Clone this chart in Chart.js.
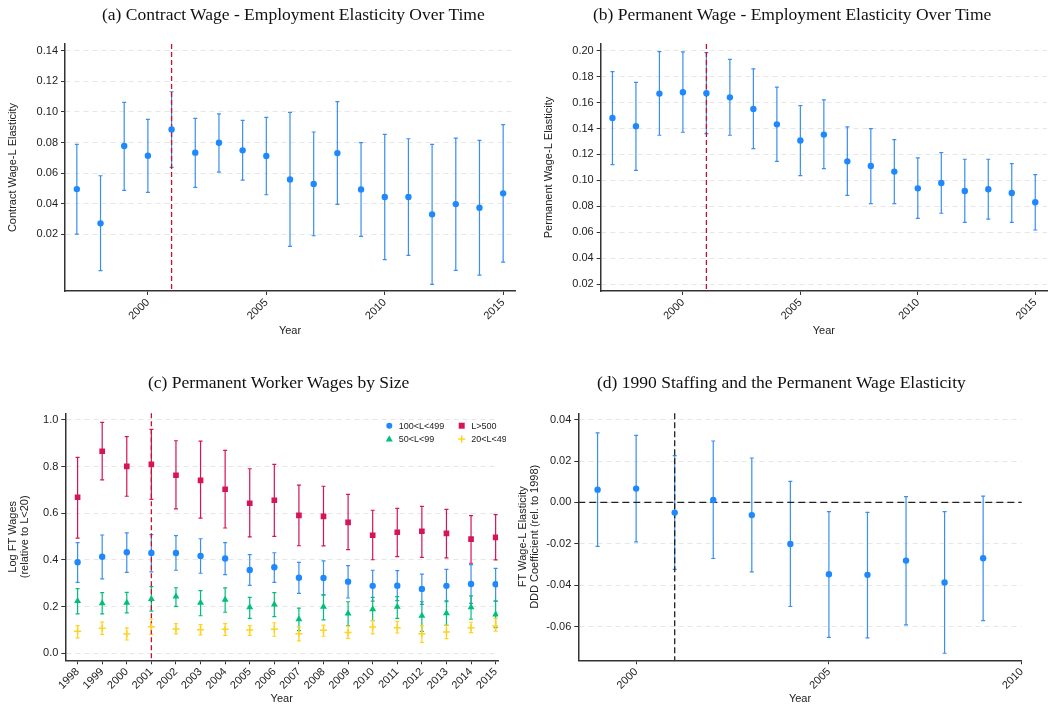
<!DOCTYPE html>
<html>
<head>
<meta charset="utf-8">
<script src="https://cdn.jsdelivr.net/npm/chart.js@4.4.1/dist/chart.umd.min.js"></script>
<style>
    body { margin: 0; background: #fff; width: 1051px; height: 709px; position: relative; overflow: hidden; }
    canvas { position: absolute; }
    .ttl { position: absolute; font-family: 'Liberation Serif', 'Times New Roman', serif; font-size: 17.5px; line-height: 20px; color: #111; white-space: nowrap; }
</style>
</head>
<body>
<canvas id="chartA" width="525" height="360" style="left:0;top:0"></canvas>
<canvas id="chartB" width="526" height="360" style="left:525px;top:0"></canvas>
<canvas id="chartC" width="506" height="349" style="left:0;top:360px"></canvas>
<canvas id="chartD" width="545" height="349" style="left:506px;top:360px"></canvas>
<div class="ttl" style="left:102px;top:4px">(a) Contract Wage - Employment Elasticity Over Time</div>
<div class="ttl" style="left:593px;top:4px">(b) Permanent Wage - Employment Elasticity Over Time</div>
<div class="ttl" style="left:148px;top:372px">(c) Permanent Worker Wages by Size</div>
<div class="ttl" style="left:597px;top:372px">(d) 1990 Staffing and the Permanent Wage Elasticity</div>
<script>
// ---- DATA ----
const contractYears = [1997, 1998, 1999, 2000, 2001, 2002, 2003, 2004, 2005, 2006, 2007, 2008, 2009, 2010, 2011, 2012, 2013, 2014, 2015];
const contractCoef = [0.0496, 0.0272, 0.0777, 0.0714, 0.0886, 0.0734, 0.0799, 0.0749, 0.0712, 0.0559, 0.0529, 0.0731, 0.0494, 0.0444, 0.0444, 0.0331, 0.0398, 0.0374, 0.0468];
const contractLo = [0.0202, -0.0037, 0.0488, 0.0474, 0.0638, 0.0507, 0.0607, 0.0555, 0.0459, 0.0122, 0.0191, 0.0396, 0.0187, 0.0035, 0.0063, -0.0127, -0.0035, -0.0066, 0.0019];
const contractHi = [0.0788, 0.0583, 0.1062, 0.0951, 0.1132, 0.0958, 0.0988, 0.0945, 0.0964, 0.0997, 0.0869, 0.1067, 0.0799, 0.0853, 0.0825, 0.0788, 0.0829, 0.0814, 0.0917];

const permYears = [1997, 1998, 1999, 2000, 2001, 2002, 2003, 2004, 2005, 2006, 2007, 2008, 2009, 2010, 2011, 2012, 2013, 2014, 2015];
const permCoef = [0.1481, 0.1417, 0.1669, 0.1679, 0.1671, 0.1640, 0.1551, 0.1432, 0.1307, 0.1353, 0.1147, 0.1111, 0.1068, 0.0939, 0.0980, 0.0919, 0.0932, 0.0903, 0.0832];
const permLo = [0.1122, 0.1078, 0.1348, 0.1371, 0.1361, 0.1348, 0.1245, 0.1147, 0.1037, 0.1091, 0.0885, 0.0821, 0.0821, 0.0708, 0.0747, 0.0677, 0.0701, 0.0677, 0.0618];
const permHi = [0.1838, 0.1756, 0.1992, 0.1990, 0.1985, 0.1933, 0.1859, 0.1718, 0.1576, 0.1620, 0.1412, 0.1399, 0.1314, 0.1173, 0.1214, 0.1163, 0.1163, 0.1129, 0.1045];

const sizeYears = [1998, 1999, 2000, 2001, 2002, 2003, 2004, 2005, 2006, 2007, 2008, 2009, 2010, 2011, 2012, 2013, 2014, 2015];
const sizeLabels = ['100<L<499', 'L>500', '50<L<99', '20<L<49'];
const midCoef = [0.390, 0.414, 0.433, 0.430, 0.430, 0.417, 0.406, 0.357, 0.369, 0.324, 0.323, 0.307, 0.289, 0.290, 0.276, 0.289, 0.297, 0.296];
const midLo = [0.304, 0.319, 0.347, 0.349, 0.356, 0.343, 0.337, 0.291, 0.304, 0.257, 0.250, 0.237, 0.224, 0.226, 0.210, 0.221, 0.214, 0.224];
const midHi = [0.474, 0.507, 0.516, 0.509, 0.504, 0.491, 0.474, 0.423, 0.431, 0.390, 0.396, 0.376, 0.356, 0.354, 0.339, 0.360, 0.380, 0.364];
const bigCoef = [0.669, 0.866, 0.801, 0.810, 0.763, 0.741, 0.703, 0.643, 0.656, 0.591, 0.587, 0.561, 0.506, 0.519, 0.523, 0.514, 0.489, 0.497];
const bigLo = [0.494, 0.743, 0.673, 0.660, 0.619, 0.579, 0.537, 0.499, 0.501, 0.461, 0.460, 0.444, 0.401, 0.414, 0.411, 0.409, 0.386, 0.400];
const bigHi = [0.840, 0.990, 0.929, 0.960, 0.911, 0.909, 0.870, 0.791, 0.810, 0.721, 0.716, 0.681, 0.613, 0.621, 0.630, 0.617, 0.590, 0.594];
const smallCoef = [0.224, 0.214, 0.217, 0.233, 0.243, 0.217, 0.229, 0.197, 0.209, 0.146, 0.199, 0.171, 0.189, 0.199, 0.161, 0.172, 0.197, 0.166];
const smallLo = [0.169, 0.169, 0.173, 0.181, 0.201, 0.161, 0.176, 0.150, 0.157, 0.097, 0.143, 0.119, 0.140, 0.150, 0.094, 0.120, 0.146, 0.110];
const smallHi = [0.277, 0.260, 0.261, 0.286, 0.281, 0.269, 0.280, 0.240, 0.260, 0.194, 0.250, 0.221, 0.240, 0.243, 0.221, 0.225, 0.246, 0.224];
const tinyCoef = [0.094, 0.107, 0.083, 0.114, 0.104, 0.101, 0.103, 0.100, 0.103, 0.084, 0.099, 0.089, 0.113, 0.110, 0.084, 0.091, 0.110, 0.117];
const tinyLo = [0.066, 0.081, 0.057, 0.081, 0.083, 0.079, 0.077, 0.077, 0.073, 0.053, 0.073, 0.064, 0.083, 0.087, 0.047, 0.063, 0.089, 0.095];
const tinyHi = [0.119, 0.134, 0.109, 0.147, 0.127, 0.123, 0.127, 0.119, 0.131, 0.113, 0.121, 0.117, 0.141, 0.137, 0.119, 0.121, 0.133, 0.150];

const dddYears = [1999, 2000, 2001, 2002, 2003, 2004, 2005, 2006, 2007, 2008, 2009];
const dddCoef = [0.0062, 0.0067, -0.0049, 0.0012, -0.0061, -0.0201, -0.0347, -0.0350, -0.0281, -0.0387, -0.0270];
const dddLo = [-0.0212, -0.0191, -0.0323, -0.0271, -0.0336, -0.0503, -0.0652, -0.0655, -0.0592, -0.0729, -0.0571];
const dddHi = [0.0336, 0.0324, 0.0226, 0.0297, 0.0215, 0.0102, -0.0044, -0.0048, 0.0028, -0.0044, 0.0031];

// tick labels
const ticksAy = [0.02, 0.04, 0.06, 0.08, 0.10, 0.12, 0.14];
const ticksBy = [0.02, 0.04, 0.06, 0.08, 0.10, 0.12, 0.14, 0.16, 0.18, 0.20];
const ticksCy = [0.0, 0.2, 0.4, 0.6, 0.8, 1.0];
const ticksDy = [-0.06, -0.04, -0.02, 0.00, 0.02, 0.04];
const ticksABx = [2000, 2005, 2010, 2015];
const ticksDx = [2000, 2005, 2010];
const policyYear = 2001;

// ---- STYLE ----
const AXIS = '#333';
const GRID = '#e6e6e6';
const BLUE = '#1e88ff';
const BLUE_BAR = '#3a8ff0';
const RED = '#d5145a';
const GREEN = '#00bf7a';
const YELLOW = '#ffd21f';

Chart.defaults.font.family = "'Liberation Sans', Arial, sans-serif";
Chart.defaults.font.size = 11;
Chart.defaults.color = '#222';

// error bars + reference lines, drawn under the markers
const errBars = {
    id: 'errBars',
    beforeDatasetsDraw(chart, args, opts) {
        const { ctx, chartArea: a, scales: { x, y } } = chart;
        const cap = opts.cap || 2;
        ctx.save();
        chart.data.datasets.forEach(d => {
            if (!d.lo) return;
            ctx.strokeStyle = d.barColor;
            ctx.lineWidth = 1.2;
            ctx.setLineDash([]);
            d.data.forEach((p, i) => {
                const px = x.getPixelForValue(p.x);
                const top = y.getPixelForValue(d.hi[i]);
                const bot = y.getPixelForValue(d.lo[i]);
                ctx.beginPath();
                ctx.moveTo(px, top); ctx.lineTo(px, bot);
                ctx.moveTo(px - cap, top); ctx.lineTo(px + cap, top);
                ctx.moveTo(px - cap, bot); ctx.lineTo(px + cap, bot);
                ctx.stroke();
            });
        });
        (opts.vLines || []).forEach(l => {
            const px = x.getPixelForValue(l.value);
            ctx.beginPath();
            ctx.strokeStyle = l.color; ctx.lineWidth = 1.3; ctx.setLineDash(l.dash);
            ctx.moveTo(px, a.top); ctx.lineTo(px, a.bottom); ctx.stroke();
        });
        (opts.hLines || []).forEach(l => {
            const py = y.getPixelForValue(l.value);
            ctx.beginPath();
            ctx.strokeStyle = l.color; ctx.lineWidth = 1.3; ctx.setLineDash(l.dash);
            ctx.moveTo(a.left, py); ctx.lineTo(a.right, py); ctx.stroke();
        });
        ctx.restore();
    }
};
Chart.register(errBars);

// two-column key in the top right of panel (c)
const cornerKey = {
    id: 'cornerKey',
    afterDraw(chart, args, opts) {
        const { ctx, chartArea: a } = chart;
        ctx.save();
        ctx.font = "9px 'Liberation Sans', Arial, sans-serif";
        ctx.textBaseline = 'middle';
        chart.data.datasets.forEach((d, i) => {
            const mx = a.left + opts.cols[i % 2];
            const my = a.top + opts.rows[Math.floor(i / 2)];
            drawMarker(ctx, d.pointStyle, d.backgroundColor, mx, my);
            ctx.fillStyle = '#222';
            ctx.fillText(d.label, mx + 9.5, my + 0.5);
        });
        ctx.restore();
    }
};

function drawMarker(ctx, style, color, x, y) {
    ctx.fillStyle = color;
    ctx.strokeStyle = color;
    ctx.beginPath();
    if (style === 'circle') ctx.arc(x, y, 3, 0, Math.PI * 2);
    else if (style === 'rect') ctx.rect(x - 3, y - 3, 6, 6);
    else if (style === 'triangle') { ctx.moveTo(x, y - 3.8); ctx.lineTo(x + 3.5, y + 2.6); ctx.lineTo(x - 3.5, y + 2.6); ctx.closePath(); }
    else { ctx.lineWidth = 1.5; ctx.moveTo(x - 3.5, y); ctx.lineTo(x + 3.5, y); ctx.moveTo(x, y - 3.5); ctx.lineTo(x, y + 3.5); ctx.stroke(); return; }
    ctx.fill();
}

function series(label, years, coef, lo, hi, look) {
    return {
        label: label,
        data: years.map((yr, i) => ({ x: yr, y: coef[i] })),
        lo: lo,
        hi: hi,
        showLine: false,
        pointStyle: look.style,
        pointRadius: look.r,
        backgroundColor: look.color,
        borderColor: look.color,
        pointBorderWidth: look.bw || 0,
        barColor: look.bar
    };
}

function makeChart(id, o) {
    return new Chart(document.getElementById(id), {
        type: 'scatter',
        data: { datasets: o.datasets },
        plugins: o.plugins || [],
        options: {
            responsive: false,
            animation: false,
            events: [],
            devicePixelRatio: 1,
            layout: { padding: { left: 0, right: o.padRight, top: o.padTop, bottom: 0 } },
            plugins: {
                legend: { display: false },
                tooltip: { enabled: false },
                errBars: { vLines: o.vLines, hLines: o.hLines, cap: 2 },
                cornerKey: o.key || {}
            },
            scales: {
                x: {
                    type: 'linear',
                    min: o.xMin, max: o.xMax,
                    afterBuildTicks: s => { s.ticks = o.xTicks.map(v => ({ value: v })); },
                    afterFit: s => { s.height = o.xHeight; },
                    ticks: { autoSkip: false, maxRotation: 45, minRotation: 45, padding: 1, callback: v => String(v) },
                    grid: { drawOnChartArea: false, drawTicks: true, tickLength: 4, tickColor: AXIS },
                    border: { color: AXIS, width: 1.5 },
                    title: { display: true, text: 'Year', padding: { top: 0, bottom: o.yearPad } }
                },
                y: {
                    type: 'linear',
                    min: o.yMin, max: o.yMax,
                    afterBuildTicks: s => { s.ticks = o.yTicks.map(v => ({ value: v })); },
                    afterFit: s => { s.width = o.yWidth; },
                    ticks: { padding: 3, callback: v => v.toFixed(o.digits) },
                    grid: { drawOnChartArea: true, color: GRID, drawTicks: true, tickLength: 4, tickColor: AXIS },
                    border: { color: AXIS, width: 1.5, dash: [5, 4] },
                    title: { display: true, text: o.yTitle, padding: { top: o.yTitlePad, bottom: 0 }, font: { size: 11, lineHeight: 1.03 } }
                }
            }
        }
    });
}

const blueLook = { style: 'circle', r: 3.2, color: BLUE, bar: BLUE_BAR };
const redLine = [{ value: policyYear, color: '#c8102e', dash: [5, 3] }];

makeChart('chartA', {
    datasets: [series('Contract', contractYears, contractCoef, contractLo, contractHi, blueLook)],
    xMin: 1996.5, xMax: 2015.5, xTicks: ticksABx, xHeight: 69, yearPad: 22.5,
    yMin: -0.017, yMax: 0.1444, yTicks: ticksAy, digits: 2, yWidth: 65,
    yTitle: 'Contract Wage-L Elasticity', yTitlePad: 7.5,
    padRight: 10, padTop: 44, vLines: redLine
});

makeChart('chartB', {
    datasets: [series('Permanent', permYears, permCoef, permLo, permHi, blueLook)],
    xMin: 1996.5, xMax: 2015.5, xTicks: ticksABx, xHeight: 69, yearPad: 22.5,
    yMin: 0.0148, yMax: 0.2051, yTicks: ticksBy, digits: 2, yWidth: 75.7,
    yTitle: 'Permanent Wage-L Elasticity', yTitlePad: 18.4,
    padRight: 3.3, padTop: 44, vLines: redLine
});

makeChart('chartC', {
    datasets: [
        series(sizeLabels[0], sizeYears, midCoef, midLo, midHi, blueLook),
        series(sizeLabels[1], sizeYears, bigCoef, bigLo, bigHi, { style: 'rect', r: 4, color: RED, bar: RED }),
        series(sizeLabels[2], sizeYears, smallCoef, smallLo, smallHi, { style: 'triangle', r: 4, color: GREEN, bar: GREEN }),
        series(sizeLabels[3], sizeYears, tinyCoef, tinyLo, tinyHi, { style: 'cross', r: 3.5, bw: 1.5, color: YELLOW, bar: YELLOW })
    ],
    plugins: [cornerKey],
    key: { cols: [324, 396.4], rows: [12.4, 25.7] },
    xMin: 1997.5, xMax: 2015.1, xTicks: sizeYears, xHeight: 48.7, yearPad: 3,
    yMin: -0.03, yMax: 1.0286, yTicks: ticksCy, digits: 1, yWidth: 65.3,
    yTitle: ['Log FT Wages', '(relative to L<20)'], yTitlePad: 7.7,
    padRight: 1, padTop: 53.3, vLines: redLine
});

makeChart('chartD', {
    datasets: [series('DDD', dddYears, dddCoef, dddLo, dddHi, blueLook)],
    xMin: 1998.5, xMax: 2010, xTicks: ticksDx, xHeight: 48.7, yearPad: 3,
    yMin: -0.0763, yMax: 0.0431, yTicks: ticksDy, digits: 2, yWidth: 72.3,
    yTitle: ['FT Wage-L Elasticity', 'DDD Coefficient (rel. to 1998)'], yTitlePad: 11.8,
    padRight: 29.3, padTop: 53.3,
    vLines: [{ value: policyYear, color: '#222', dash: [6, 3] }],
    hLines: [{ value: 0, color: '#222', dash: [7, 4] }]
});
</script>
</body>
</html>
